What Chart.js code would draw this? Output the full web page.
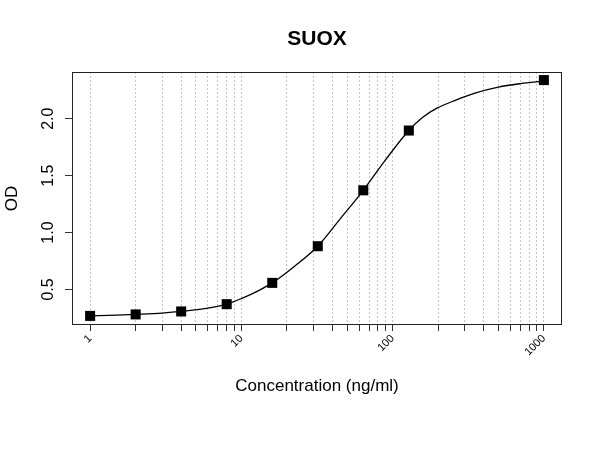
<!DOCTYPE html>
<html>
<head>
<meta charset="utf-8">
<script src="https://cdn.jsdelivr.net/npm/chart.js@4/dist/chart.umd.min.js"></script>
<style>
  html, body { margin: 0; padding: 0; background: #ffffff; }
  canvas { display: block; }
</style>
</head>
<body>
<canvas id="c" width="600" height="450"></canvas>
<script>
// Measured standards
const conc = [1, 2, 4, 8, 16, 32, 64, 128, 1000];
const od = [0.268, 0.281, 0.307, 0.371, 0.558, 0.880, 1.371, 1.896, 2.339];

// Fitted curve
const curveX = [1, 1.5, 2, 3, 4, 6, 8, 10, 13, 16, 22.6, 32, 45, 64, 90, 128, 159, 195, 264, 350, 500, 700, 1000];
const curveY = [0.268, 0.274, 0.281, 0.293, 0.307, 0.336, 0.371, 0.42, 0.49, 0.558, 0.707, 0.880, 1.12, 1.371, 1.64, 1.896, 2.014, 2.09, 2.165, 2.225, 2.278, 2.308, 2.33];

// Axis ticks
const xTicks = [1,2,3,4,5,6,7,8,9,10,20,30,40,50,60,70,80,90,100,200,300,400,500,600,700,800,900,1000];
const xLabels = [1, 10, 100, 1000];
const yTicks = [0.5, 1.0, 1.5, 2.0];
const yTickLabels = ['0.5', '1.0', '1.5', '2.0'];

const title = 'SUOX';
const xTitle = 'Concentration (ng/ml)';
const yTitle = 'OD';

const FONT = '"Liberation Sans", Arial, Helvetica, sans-serif';

const decorations = {
  id: 'decorations',
  afterDraw(chart) {
    const ctx = chart.ctx;
    const a = chart.chartArea;
    const ys = chart.scales.y;
    ctx.save();
    // plot box
    ctx.strokeStyle = '#222';
    ctx.lineWidth = 1;
    ctx.strokeRect(a.left + 0.5, a.top + 0.5, a.right - a.left - 1, a.bottom - a.top - 1);
    // title
    ctx.fillStyle = '#000';
    ctx.textAlign = 'center';
    ctx.textBaseline = 'alphabetic';
    ctx.font = 'bold 21px ' + FONT;
    ctx.fillText(title, (a.left + a.right) / 2, 45);
    // x title
    ctx.font = '17px ' + FONT;
    ctx.fillText(xTitle, (a.left + a.right) / 2, 391);
    // y title
    ctx.save();
    ctx.translate(17, (a.top + a.bottom) / 2);
    ctx.rotate(-Math.PI / 2);
    ctx.fillText(yTitle, 0, 0);
    ctx.restore();
    // y tick labels (rotated, R style)
    ctx.font = '16px ' + FONT;
    yTicks.forEach((v, i) => {
      const py = ys.getPixelForValue(v);
      ctx.save();
      ctx.translate(53, py);
      ctx.rotate(-Math.PI / 2);
      ctx.fillText(yTickLabels[i], 0, 0);
      ctx.restore();
    });
    ctx.restore();
  }
};

new Chart(document.getElementById('c'), {
  type: 'scatter',
  data: {
    datasets: [
      {
        label: 'fit',
        data: curveX.map((x, i) => ({ x: x, y: curveY[i] })),
        showLine: true,
        borderColor: '#000',
        borderWidth: 1.3,
        pointRadius: 0,
        pointHoverRadius: 0,
        cubicInterpolationMode: 'monotone',
        fill: false,
        order: 2
      },
      {
        label: 'standards',
        data: conc.map((x, i) => ({ x: x, y: od[i] })),
        showLine: false,
        pointStyle: 'rect',
        pointRadius: 7.1,
        pointHoverRadius: 7.1,
        backgroundColor: '#000',
        borderColor: '#000',
        borderWidth: 0,
        order: 1
      }
    ]
  },
  options: {
    responsive: false,
    animation: false,
    devicePixelRatio: 1,
    layout: { padding: { top: 72, right: 38, left: 0, bottom: 0 } },
    plugins: {
      legend: { display: false },
      title: { display: false },
      tooltip: { enabled: false }
    },
    scales: {
      x: {
        type: 'logarithmic',
        min: 0.759,
        max: 1318,
        afterBuildTicks(scale) {
          scale.ticks = xTicks.map(v => ({ value: v }));
        },
        afterFit(scale) { scale.height = 125; },
        border: { display: false, dash: [2, 2] },
        grid: {
          display: true,
          drawOnChartArea: true,
          drawTicks: true,
          tickLength: 6,
          color: '#c4c4c4',
          lineWidth: 1,
          tickColor: '#333',
          tickWidth: 1,
          tickBorderDash: [0, 0]
        },
        ticks: {
          autoSkip: false,
          minRotation: 45,
          maxRotation: 45,
          padding: 1,
          color: '#000',
          font: { family: FONT, size: 11 },
          callback(value) {
            return xLabels.includes(value) ? String(value) : '';
          }
        }
      },
      y: {
        type: 'linear',
        min: 0.188,
        max: 2.41,
        afterBuildTicks(scale) {
          scale.ticks = yTicks.map(v => ({ value: v }));
        },
        afterFit(scale) { scale.width = 72; },
        border: { display: false },
        grid: {
          display: true,
          drawOnChartArea: false,
          drawTicks: true,
          tickLength: 7,
          tickColor: '#333',
          tickWidth: 1
        },
        ticks: { display: false }
      }
    }
  },
  plugins: [decorations]
});
</script>
</body>
</html>
